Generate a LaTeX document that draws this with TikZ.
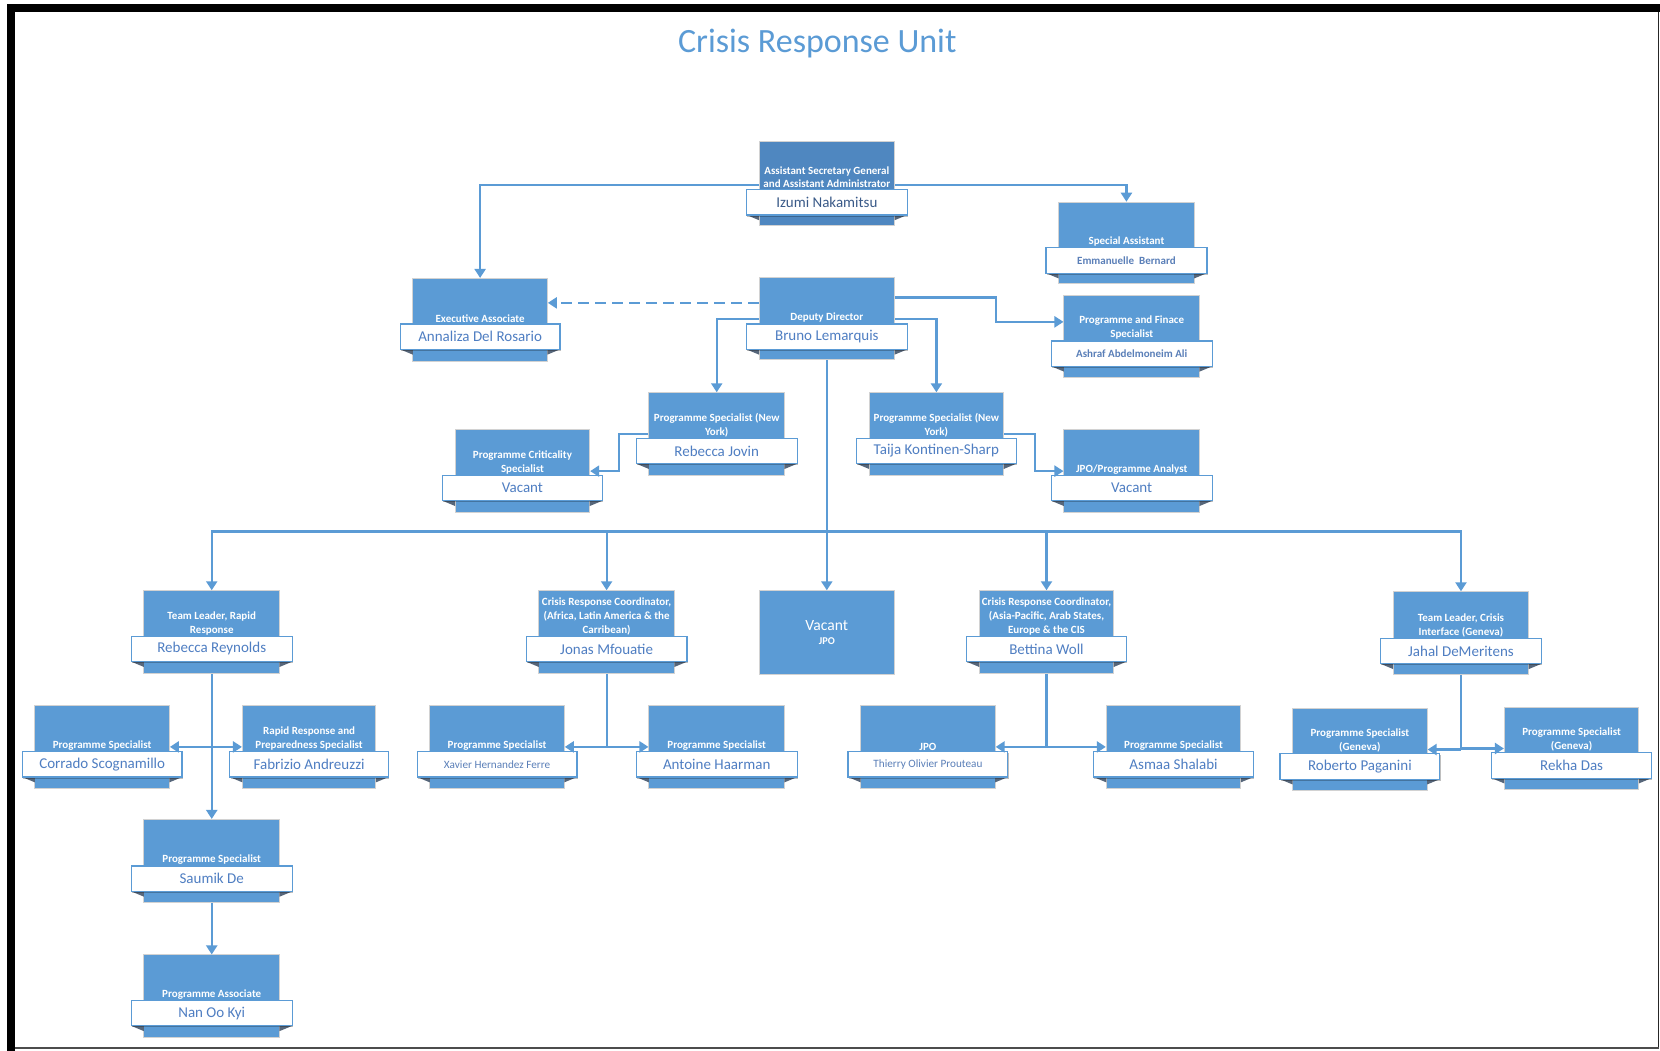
\documentclass[tikz,border=0pt]{standalone}
\usepackage{fontspec}
\setmainfont{Carlito}
\usetikzlibrary{arrows.meta,calc,shadows}
\definecolor{boxblue}{HTML}{5B9BD5}
\definecolor{asgblue}{HTML}{4F87C0}
\definecolor{linec}{HTML}{5B9BD5}
\definecolor{namec}{HTML}{4F7EC2}
\definecolor{asgname}{HTML}{3A5A88}
\definecolor{foldc}{HTML}{56667A}
\definecolor{titlec}{HTML}{5B9BD5}
\definecolor{smallname}{HTML}{5A7FB8}

\tikzset{
  bluebox/.style={rectangle, fill=boxblue, draw=gray!35, line width=0.5pt, inner sep=0pt},
  namebox/.style={rectangle, fill=white, draw=boxblue, line width=0.6pt, inner sep=0pt,
    minimum height={24*0.52934pt}, text=namec, font=\fontsize{7.5}{8.5}\selectfont,
    drop shadow={shadow xshift=0.4pt, shadow yshift=-0.8pt, opacity=0.25, fill=black}},
  smallname/.style={font=\fontsize{5.5}{6.5}\selectfont\bfseries, text=smallname},
  smallreg/.style={font=\fontsize{5.6}{6.5}\selectfont, text=smallname},
  titletext/.style={text=white, align=center, inner sep=0pt, font=\fontsize{5.5}{6.9}\selectfont\bfseries},
  conn/.style={draw=linec, line width=1.1pt, -{Triangle[width=5.5pt,length=4.5pt]}},
  plainconn/.style={draw=linec, line width=1.1pt},
  dashconn/.style={draw=linec, line width=1.1pt, dash pattern=on 5.5pt off 3pt, -{Triangle[width=5.5pt,length=4.5pt]}},
}

% #1 optional name style, #2 node name, #3 x1, #4 y1, #5 x2, #6 y2, #7 white top, #8 title, #9 person
\newcommand\orgunit[9][]{%
  \node[bluebox, minimum width={(#5-#3)*0.52934pt}, minimum height={(#6-#4)*0.52934pt}] (#2) at ({(#3+#5)/2},{(#4+#6)/2}) {};
  \fill[foldc] ({#3-12},{#7+24}) -- (#3,{#7+24}) -- (#3,{#7+29}) -- cycle;
  \fill[foldc] ({#5+12},{#7+24}) -- (#5,{#7+24}) -- (#5,{#7+29}) -- cycle;
  \node[namebox, minimum width={(#5-#3+24)*0.52934pt}, #1] (#2-n) at ({(#3+#5)/2},{#7+12}) {#9};
  \node[titletext, anchor=south] (#2-t) at ({(#3+#5)/2},{#7-1}) {#8};
}

\begin{document}
\begin{tikzpicture}[x=0.52934pt,y=-0.52934pt]
\useasboundingbox (0,0) rectangle (1568,992.7);
\fill[white] (0,0) rectangle (1568,992.7);
% frame
\fill[black] (6.3,3.8) rectangle (1568,11.3);
\fill[black] (6.3,3.8) rectangle (13.9,992.7);
\fill[black!85] (1565.8,11.3) rectangle (1567,990.6);
\fill[black!70] (13.9,989.2) rectangle (1567,990.6);

% title
\node[text=titlec, font=\fontsize{17}{20}\selectfont] (title) at (772,41.5) {Crisis Response Unit};

\coordinate (bus) at (781,502);

% units
\begin{scope}[bluebox/.append style={fill=asgblue}]
\orgunit[text=asgname]{asg}{717}{134}{845}{213}{179}{Assistant Secretary General\\and Assistant Administrator}{Izumi Nakamitsu}
\end{scope}
\orgunit[smallname]{sa}{1000}{191}{1128}{268}{234}{Special Assistant}{Emmanuelle\ \ Bernard}
\orgunit{ea}{390}{263}{517}{341}{306}{Executive Associate}{Annaliza Del Rosario}
\orgunit{dd}{717}{262}{845}{340}{306}{Deputy Director}{Bruno Lemarquis}
\orgunit[smallname]{pf}{1005}{279}{1133}{357}{322}{Programme and Finace\\Specialist}{Ashraf Abdelmoneim Ali}
\orgunit{rj}{613}{371}{741}{449}{414}{Programme Specialist (New\\York)}{Rebecca Jovin}
\orgunit{tk}{821}{371}{948}{449}{414}{Programme Specialist (New\\York)}{Taija Kontinen-Sharp}
\orgunit{cv}{430}{406}{557}{484}{449}{Programme Criticality\\Specialist}{Vacant}
\orgunit{ja}{1005}{406}{1133}{484}{449}{JPO/Programme Analyst}{Vacant}
\orgunit{trr}{136}{558}{264}{636}{601}{Team Leader, Rapid\\Response}{Rebecca Reynolds}
\orgunit{jm}{509}{558}{637}{636}{601}{Crisis Response Coordinator,\\(Africa, Latin America \& the\\Carribean)}{Jonas Mfouatie}
\node[bluebox, minimum width={128*0.52934pt}, minimum height={79*0.52934pt}] (vj) at (781,597.5) {};
\node[text=white, font=\fontsize{7.8}{8.5}\selectfont, inner sep=0pt] (vj-n) at (781,591) {Vacant};
\node[text=white, font=\fontsize{5.2}{6}\selectfont\bfseries, inner sep=0pt] (vj-t) at (781,606) {JPO};
\orgunit{bw}{925}{558}{1052}{636}{601}{Crisis Response Coordinator,\\(Asia-Pacific, Arab States,\\Europe \& the CIS}{Bettina Woll}
\orgunit{jd}{1316}{559}{1444}{637}{603}{Team Leader, Crisis\\Interface (Geneva)}{Jahal DeMeritens}
\orgunit{cs}{33}{666}{160}{745}{710}{Programme Specialist}{Corrado Scognamillo}
\orgunit{fa}{229}{666}{355}{745}{710}{Rapid Response and\\Preparedness Specialist}{Fabrizio Andreuzzi}
\orgunit[smallreg]{xh}{406}{666}{533}{745}{710}{Programme Specialist}{Xavier Hernandez Ferre}
\orgunit{ah}{613}{666}{741}{745}{710}{Programme Specialist}{Antoine Haarman}
\orgunit[smallreg]{tp}{813}{666}{940}{745}{710}{JPO}{Thierry Olivier Prouteau}
\orgunit{asm}{1045}{666}{1172}{745}{710}{Programme Specialist}{Asmaa Shalabi}
\orgunit{rp}{1221}{669}{1348}{747}{712}{Programme Specialist\\(Geneva)}{Roberto Paganini}
\orgunit{rd}{1421}{668}{1548}{746}{711}{Programme Specialist\\(Geneva)}{Rekha Das}
\orgunit{sd}{136}{774}{264}{852}{818}{Programme Specialist}{Saumik De}
\orgunit{nk}{136}{902}{264}{980}{945}{Programme Associate}{Nan Oo Kyi}

% connectors
\draw[conn] ([yshift=-0.8pt]asg.west) -| (ea.north);
\draw[conn] ([yshift=-0.8pt]asg.east) -| (sa.north);
\draw[dashconn] ([yshift=7.9pt]dd.west) -- ([yshift=7.9pt]dd.west -| ea.east);
\draw[conn] ([yshift=10.6pt]dd.east) -- ++(95,0) |- ([yshift=7.4pt]pf.west);
\draw[conn] (dd.west) -| (rj.north);
\draw[conn] (dd.east) -| (tk.north);
\draw[conn] (rj.west) -- ++(-28,0) |- (cv.east);
\draw[conn] (tk.east) -- ++(29,0) |- (ja.west);
\draw[conn] (dd.south) -- (vj.north);
\draw[plainconn] (bus -| trr.north) -- (bus -| jd.north);
\draw[conn] (bus) -| (trr.north);
\draw[conn] (bus) -| (jm.north);
\draw[conn] (bus) -| (bw.north);
\draw[conn] (bus) -| (jd.north);
% rapid response
\draw[conn] (trr.south) -- (sd.north);
\draw[conn] (trr.south |- cs.east) -- (cs.east);
\draw[conn] (trr.south |- fa.west) -- (fa.west);
\draw[conn] (sd.south) -- (nk.north);
% Jonas
\draw[plainconn] (jm.south) -- (jm.south |- xh.east);
\draw[conn] (jm.south |- xh.east) -- (xh.east);
\draw[conn] (jm.south |- ah.west) -- (ah.west);
% Bettina
\draw[plainconn] (bw.south) -- (bw.south |- tp.east);
\draw[conn] (bw.south |- tp.east) -- (tp.east);
\draw[conn] (bw.south |- asm.west) -- (asm.west);
% Jahal
\draw[plainconn] (jd.south) -- (jd.south |- rp.east);
\draw[conn] (jd.south |- rp.east) -- (rp.east);
\draw[conn] (jd.south |- rd.west) -- (rd.west);
\end{tikzpicture}
\end{document}
